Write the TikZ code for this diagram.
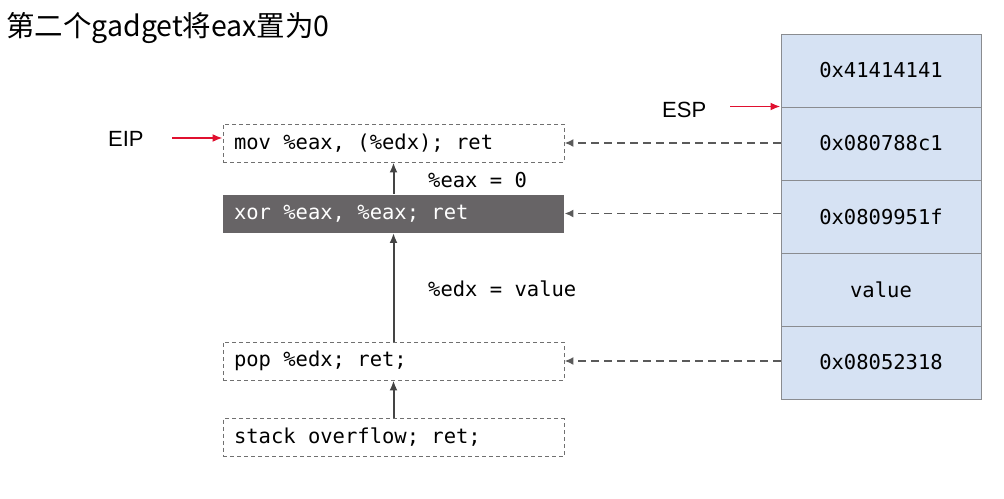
\documentclass[tikz,border=0pt]{standalone}
\usepackage{fontspec}
\setmonofont{DejaVu Sans Mono}
\setsansfont{Liberation Sans}
\newfontfamily\cjk{Noto Sans CJK SC}
\usetikzlibrary{arrows.meta}
\definecolor{stackfill}{HTML}{D6E2F3}
\definecolor{stackline}{HTML}{8A8C90}
\definecolor{darkbox}{HTML}{676466}
\definecolor{arrowgray}{HTML}{444444}
\definecolor{dashgray}{HTML}{707070}
\definecolor{refgray}{HTML}{5A5A5A}
\definecolor{ptrred}{HTML}{E0102F}
\newcommand{\gadgettext}[1]{\makebox[319pt][l]{#1}}
\tikzset{
  gadget/.style={draw=dashgray, dash pattern=on 4pt off 3pt, line width=0.9pt,
    minimum width=341pt, minimum height=38pt,
    inner xsep=11pt, font=\ttfamily\fontsize{20.5}{24}\selectfont},
  gadgetdark/.style={gadget, draw=none, fill=darkbox, text=white},
  slot/.style={draw=stackline, fill=stackfill, line width=1pt,
    minimum width=200pt, minimum height=73pt,
    font=\ttfamily\fontsize{20.5}{24}\selectfont},
  flow/.style={draw=arrowgray, line width=2pt, -{Latex[length=10pt,width=8pt]}},
  ref/.style={draw=refgray, line width=1.8pt, dash pattern=on 8pt off 5pt, -{Latex[length=9pt,width=8pt]}},
  ptr/.style={draw=ptrred, line width=1.8pt, -{Latex[length=10pt,width=8pt]}},
  lbl/.style={font=\ttfamily\fontsize{20.5}{24}\selectfont, anchor=west, inner sep=0pt},
  reg/.style={font=\sffamily\fontsize{22}{26}\selectfont, anchor=west, inner sep=0pt}
}
\begin{document}
\begin{tikzpicture}[x=1pt,y=-1pt]
\useasboundingbox (0,0) rectangle (1004,498);
\node[anchor=west, inner sep=0pt, font=\cjk\fontsize{28.5}{32}\selectfont] (title) at (6,28.5) {第二个gadget将eax置为0};

% gadgets
\node[gadget] (b1) at (393.5,143) {\gadgettext{mov \%eax, (\%edx); ret}};
\node[gadgetdark] (b2) at (393.5,213.5) {\gadgettext{xor \%eax, \%eax; ret}};
\node[gadget] (b3) at (393.5,361) {\gadgettext{pop \%edx; ret;}};
\node[gadget] (b4) at (393.5,437.5) {\gadgettext{stack overflow; ret;}};

\draw[flow] (b4.north) -- (b3.south);
\draw[flow] (b3.north) -- (b2.south);
\draw[flow] (b2.north) -- (b1.south);

\node[lbl] (l1) at (428,180) {\%eax = 0};
\node[lbl] (l2) at (428,289) {\%edx = value};

% stack
\node[slot] (s1) at (881,70.5) {0x41414141};
\node[slot] (s2) at (881,143.5) {0x080788c1};
\node[slot] (s3) at (881,216.5) {0x0809951f};
\node[slot] (s4) at (881,289.5) {value};
\node[slot] (s5) at (881,362.5) {0x08052318};

\draw[ref] (b1.east -| s2.west) -- (b1.east);
\draw[ref] (b2.east -| s3.west) -- (b2.east);
\draw[ref] (b3.east -| s5.west) -- (b3.east);

% pointers
\node[reg] (eip) at (108,139) {EIP};
\coordinate (eipend) at ([yshift=5pt]b1.west);
\coordinate (eipstart) at (172,138);
\draw[ptr] (eipstart) -- (eipend);

\node[reg] (esp) at (662,110) {ESP};
\coordinate (espstart) at (730,110);
\draw[ptr] (espstart |- s2.north west) -- (s2.north west);
\end{tikzpicture}
\end{document}
